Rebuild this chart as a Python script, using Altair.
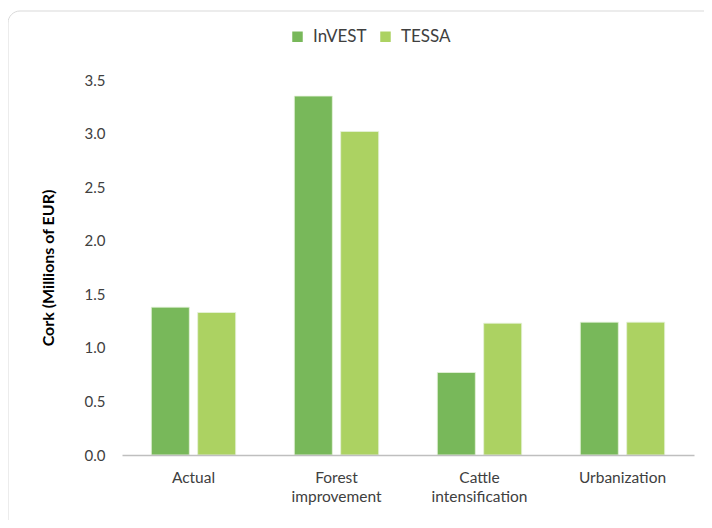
import altair as alt
import pandas as pd

categories = ["Actual", "Forest improvement", "Cattle intensification", "Urbanization"]
series = ["InVEST", "TESSA"]
invest = [1.38, 3.35, 0.77, 1.24]
tessa = [1.33, 3.02, 1.23, 1.24]
colors = ["#78b85a", "#acd262"]
y_ticks = [0.0, 0.5, 1.0, 1.5, 2.0, 2.5, 3.0, 3.5]

rows = []
for c, a, b in zip(categories, invest, tessa):
    rows.append({"cat": c, "series": "InVEST", "value": a})
    rows.append({"cat": c, "series": "TESSA", "value": b})
df = pd.DataFrame(rows)

FONT = "Lato"
W, H = 572, 375

frame = alt.Chart(pd.DataFrame({"k": [0]})).mark_rect(
    filled=False, stroke="#d9d9d9", strokeWidth=1, cornerRadius=12
).encode(
    x=alt.value(-114), x2=alt.value(W + 40), y=alt.value(-69), y2=alt.value(H + 90)
)

bars = alt.Chart(df).mark_bar(stroke="#e6f2dc", strokeWidth=0.8).encode(
    x=alt.X("cat:N", sort=categories, title=None,
            scale=alt.Scale(paddingInner=0.41, paddingOuter=0.205),
            axis=alt.Axis(labelAngle=0, labelExpr="split(datum.label, ' ')",
                          labelLineHeight=19, labelFontSize=15.5, labelColor="#404040",
                          labelFont=FONT, labelPadding=15, ticks=False,
                          domainColor="#bfbfbf", domainWidth=1.5, zindex=1)),
    xOffset=alt.XOffset("series:N", sort=series, scale=alt.Scale(paddingInner=0.18)),
    y=alt.Y("value:Q", title="Cork (Millions of EUR)",
            scale=alt.Scale(domain=[0, 3.5], nice=False),
            axis=alt.Axis(values=y_ticks, format=".1f", grid=False, domain=False,
                          ticks=False, labelFontSize=15, labelColor="#404040",
                          labelFont=FONT, labelPadding=17, titleFont=FONT,
                          titleFontSize=16, titleFontWeight="bold", titleColor="#000000",
                          titlePadding=28, zindex=1)),
    color=alt.Color("series:N", sort=series,
                    scale=alt.Scale(domain=series, range=colors),
                    legend=alt.Legend(title=None, orient="none", direction="horizontal",
                                      legendX=167, legendY=-52, symbolType="square",
                                      symbolSize=110, symbolStrokeWidth=0,
                                      labelFontSize=17, labelFont=FONT,
                                      labelColor="#404040", columnPadding=10,
                                      labelOffset=7)),
)

chart = alt.layer(frame, bars).properties(
    width=W, height=H,
    autosize=alt.AutoSizeParams(type="none"),
    padding={"left": 114, "top": 72, "right": 10, "bottom": 65},
).configure_view(stroke=None)

chart.save("out.html", embed_options={"renderer": "svg", "actions": False})
